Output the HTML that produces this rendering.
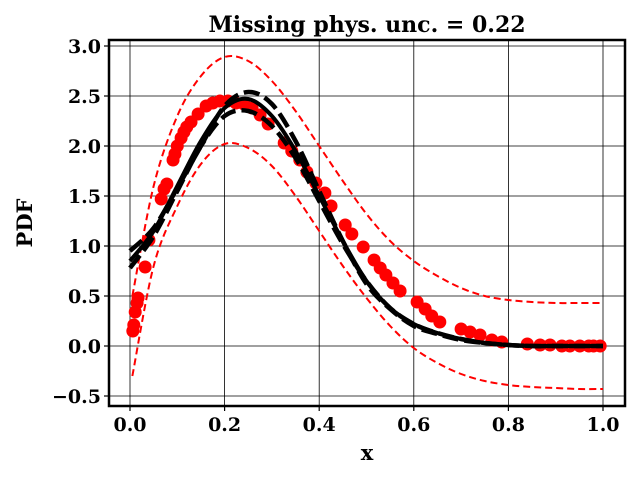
<!DOCTYPE html>
<html><head><meta charset="utf-8"><style>
body{margin:0;background:#fff}
svg text{font-family:"DejaVu Serif","Liberation Serif",serif;font-weight:bold;fill:#000}
</style></head><body>
<svg id="chart" width="640" height="480" viewBox="0 0 640 480" xmlns="http://www.w3.org/2000/svg">
<rect width="640" height="480" fill="#fff"/>
<g id="grid"></g>
<g id="series"></g>
<rect x="109" y="40" width="516" height="366" fill="none" stroke="#000" stroke-width="2.5"/>
<g id="ticks"></g>
<text x="367" y="32" font-size="22" text-anchor="middle">Missing phys. unc. = 0.22</text>
<text x="367" y="460" font-size="21" text-anchor="middle">x</text>
<text x="32" y="223" font-size="21" text-anchor="middle" transform="rotate(-90 32 223)">PDF</text>
</svg>
<script>
const xTicks=[0,0.2,0.4,0.6,0.8,1.0];
const xTickLabels=["0.0","0.2","0.4","0.6","0.8","1.0"];
const yTicks=[-0.5,0,0.5,1,1.5,2,2.5,3];
const yTickLabels=["\u22120.5","0.0","0.5","1.0","1.5","2.0","2.5","3.0"];
const curveX=[0,0.05,0.1,0.15,0.2,0.25,0.3,0.35,0.4,0.45,0.5,0.55,0.6,0.65,0.7,0.75,0.8,0.85,0.9,0.95,1.0];
const meanPdf=[0.85,1.15,1.6,2.05,2.38,2.47,2.3,1.95,1.5,1.05,0.65,0.38,0.22,0.13,0.07,0.03,0.01,0,0,0,0];
const upperPdf=[0.95,1.18,1.58,2.0,2.4,2.54,2.42,2.05,1.55,1.05,0.62,0.37,0.2,0.12,0.06,0.03,0.01,0,0,0,0];
const lowerPdf=[0.78,1.1,1.55,2.0,2.3,2.35,2.2,1.88,1.45,1.02,0.65,0.38,0.22,0.13,0.07,0.03,0.01,0,0,0,0];
const bandX=[0.005,0.05,0.1,0.15,0.2,0.25,0.3,0.35,0.4,0.45,0.5,0.55,0.6,0.65,0.7,0.75,0.8,0.85,0.9,0.95,1.0];
const bandUpper=[0.5,1.6,2.3,2.7,2.89,2.85,2.65,2.35,2.0,1.65,1.32,1.05,0.85,0.7,0.58,0.5,0.46,0.44,0.43,0.43,0.43];
const bandLower=[-0.3,0.8,1.4,1.82,2.02,1.98,1.8,1.5,1.15,0.8,0.48,0.2,-0.02,-0.17,-0.28,-0.35,-0.39,-0.41,-0.42,-0.43,-0.43];
const dataX=[0.006,0.008,0.011,0.015,0.017,0.032,0.04,0.066,0.072,0.078,0.091,0.095,0.1,0.108,0.114,0.12,0.129,0.144,0.161,0.175,0.19,0.207,0.224,0.241,0.258,0.275,0.292,0.326,0.342,0.359,0.374,0.393,0.412,0.425,0.455,0.469,0.493,0.516,0.529,0.541,0.556,0.571,0.607,0.624,0.638,0.655,0.7,0.719,0.74,0.765,0.786,0.84,0.867,0.888,0.913,0.951,0.994,0.93,0.97,0.98];
const dataY=[0.15,0.21,0.34,0.43,0.48,0.79,1.06,1.47,1.57,1.62,1.86,1.92,2.0,2.08,2.14,2.19,2.24,2.32,2.4,2.43,2.45,2.45,2.43,2.42,2.38,2.31,2.22,2.03,1.95,1.86,1.74,1.63,1.53,1.4,1.21,1.12,0.99,0.86,0.78,0.71,0.63,0.55,0.44,0.37,0.3,0.24,0.17,0.14,0.11,0.06,0.04,0.02,0.01,0.01,0,0,0,0,0,0];

const NS="http://www.w3.org/2000/svg";
const sx=v=>130+473*v, sy=v=>346-100*v;
const grid=document.getElementById('grid'),ticks=document.getElementById('ticks'),series=document.getElementById('series');
function mk(t,a,p){const e=document.createElementNS(NS,t);for(const k in a)e.setAttribute(k,a[k]);p.appendChild(e);return e;}
xTicks.forEach((v,i)=>{
  const g=mk('line',{x1:sx(v),x2:sx(v),y1:40,y2:406,stroke:'#000','stroke-width':0.8},grid);
  
  
  const t=mk('line',{x1:sx(v),x2:sx(v),y1:406,y2:411,stroke:'#000','stroke-width':1.2},ticks);
  
  
  const l=mk('text',{x:sx(v),y:431,'font-size':19,'text-anchor':'middle'},ticks);l.textContent=xTickLabels[i];
  
  
});
yTicks.forEach((v,i)=>{
  const g=mk('line',{x1:109,x2:625,y1:sy(v),y2:sy(v),stroke:'#000','stroke-width':0.8},grid);
  
  
  const t=mk('line',{x1:104,x2:109,y1:sy(v),y2:sy(v),stroke:'#000','stroke-width':1.2},ticks);
  
  
  const l=mk('text',{x:101,y:sy(v)+7,'font-size':19,'text-anchor':'end'},ticks);l.textContent=yTickLabels[i];
  
  
});
function path(xs,ys){
  const p=xs.map((x,i)=>[sx(x),sy(ys[i])]);
  let d='M'+p[0][0]+','+p[0][1];
  for(let i=0;i<p.length-1;i++){
    const p0=p[i-1]||p[i],p1=p[i],p2=p[i+1],p3=p[i+2]||p2;
    const c1=[p1[0]+(p2[0]-p0[0])/6,p1[1]+(p2[1]-p0[1])/6],c2=[p2[0]-(p3[0]-p1[0])/6,p2[1]-(p3[1]-p1[1])/6];
    d+=` C${c1[0]},${c1[1]} ${c2[0]},${c2[1]} ${p2[0]},${p2[1]}`;
  }
  return d;
}
const bu=mk('path',{d:path(bandX,bandUpper),fill:'none',stroke:'#f00','stroke-width':2,'stroke-dasharray':'7,4'},series);


const bl=mk('path',{d:path(bandX,bandLower),fill:'none',stroke:'#f00','stroke-width':2,'stroke-dasharray':'7,4'},series);


dataX.forEach((x,i)=>{
  const c=mk('circle',{cx:sx(x),cy:sy(dataY[i]),r:6.5,fill:'#f00'},series);
  
  
});
const m=mk('path',{d:path(curveX,meanPdf),fill:'none',stroke:'#000','stroke-width':4},series);


const u=mk('path',{d:path(curveX,upperPdf),fill:'none',stroke:'#000','stroke-width':4.5,'stroke-dasharray':'16,6'},series);


const lo=mk('path',{d:path(curveX,lowerPdf),fill:'none',stroke:'#000','stroke-width':4.5,'stroke-dasharray':'16,6'},series);


</script>
</body></html>
